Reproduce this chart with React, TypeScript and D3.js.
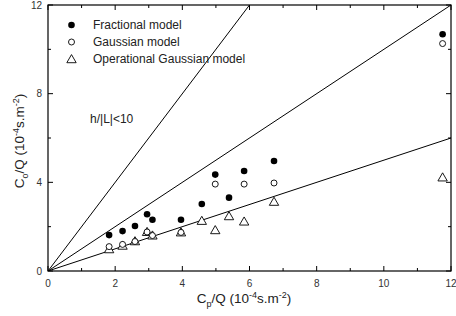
import React from "react";
import * as d3 from "d3";

const xTicks = [0, 2, 4, 6, 8, 10, 12];
const yTicks = [0, 4, 8, 12];
const lineSlopes = [2, 1, 0.5];

const fracX = [1.82, 2.22, 2.59, 2.95, 3.11, 3.96, 4.58, 4.98, 5.39, 5.84, 6.73, 11.75];
const fracY = [1.62, 1.8, 2.03, 2.56, 2.31, 2.31, 3.02, 4.35, 3.31, 4.51, 4.96, 10.68];

const gaussX = [1.82, 2.22, 2.59, 2.95, 3.11, 3.96, 4.98, 5.84, 6.73, 11.75];
const gaussY = [1.1, 1.2, 1.33, 1.76, 1.6, 1.74, 3.92, 3.92, 3.97, 10.26];

const opX = [1.82, 2.22, 2.59, 2.95, 3.11, 3.96, 4.58, 4.98, 5.39, 5.84, 6.73, 11.75];
const opY = [0.99, 1.15, 1.35, 1.77, 1.61, 1.75, 2.27, 1.85, 2.48, 2.24, 3.13, 4.23];

const legendLabels = ["Fractional model", "Gaussian model", "Operational Gaussian model"];

export default function App() {
  const W = 456, H = 316;
  const L = 48, R = 451, T = 5, B = 271;
  const x = d3.scaleLinear().domain([0, 12]).range([L, R]);
  const y = d3.scaleLinear().domain([0, 12]).range([B, T]);
  const minorX = d3.range(1, 12, 2);
  const minorY = d3.range(2, 12, 4);
  const font = "Liberation Sans, Arial, sans-serif";
  const tri = d3.symbol().type(d3.symbolTriangle).size(38)() as string;
  const lineGen = d3.line<[number, number]>().x(d => x(d[0])).y(d => y(d[1]));

  return (
    <svg width={W} height={H} style={{ position: "absolute", left: 0, top: 0, background: "#fff" }}>
      <defs>
        <clipPath id="clip"><rect x={L} y={T} width={R - L} height={B - T} /></clipPath>
      </defs>
      {/* fitted lines */}
      <g clipPath="url(#clip)">
        {lineSlopes.map((s, i) => (
          <path key={i} d={lineGen([[0, 0], [12, 12 * s]]) as string} stroke="#000" strokeWidth={1} fill="none" />
        ))}
      </g>
      {/* frame */}
      <rect x={L} y={T} width={R - L} height={B - T} fill="none" stroke="#000" strokeWidth={1.2} />
      {/* ticks */}
      {xTicks.map(t => (
        <g key={"xt" + t}>
          <line x1={x(t)} x2={x(t)} y1={B} y2={B - 5} stroke="#000" />
          <line x1={x(t)} x2={x(t)} y1={T} y2={T + 5} stroke="#000" />
          <text x={x(t)} y={B + 16} textAnchor="middle" fontSize={10} fontFamily={font} fill="#333">{t}</text>
        </g>
      ))}
      {minorX.map(t => (
        <g key={"xm" + t}>
          <line x1={x(t)} x2={x(t)} y1={B} y2={B - 3} stroke="#000" />
          <line x1={x(t)} x2={x(t)} y1={T} y2={T + 3} stroke="#000" />
        </g>
      ))}
      {yTicks.map(t => (
        <g key={"yt" + t}>
          <line x1={L} x2={L + 5} y1={y(t)} y2={y(t)} stroke="#000" />
          <line x1={R} x2={R - 5} y1={y(t)} y2={y(t)} stroke="#000" />
          <text x={L - 6} y={y(t) + 3.5} textAnchor="end" fontSize={10} fontFamily={font} fill="#333">{t}</text>
        </g>
      ))}
      {minorY.map(t => (
        <g key={"ym" + t}>
          <line x1={L} x2={L + 3} y1={y(t)} y2={y(t)} stroke="#000" />
          <line x1={R} x2={R - 3} y1={y(t)} y2={y(t)} stroke="#000" />
        </g>
      ))}
      {/* data */}
      {opX.map((v, i) => (
        <path key={"o" + i} d={tri} transform={`translate(${x(v)},${y(opY[i]) + 1})`} fill="#fff" stroke="#000" strokeWidth={0.9} />
      ))}
      {gaussX.map((v, i) => (
        <circle key={"g" + i} cx={x(v)} cy={y(gaussY[i])} r={3} fill="#fff" stroke="#000" strokeWidth={0.9} />
      ))}
      {fracX.map((v, i) => (
        <circle key={"f" + i} cx={x(v)} cy={y(fracY[i])} r={3.3} fill="#000" />
      ))}
      {/* legend */}
      {legendLabels.map((lab, i) => {
        const ly = 25 + i * 17;
        return (
          <g key={"lg" + i}>
            {i === 0 && <circle cx={71.5} cy={ly} r={3.3} fill="#000" />}
            {i === 1 && <circle cx={71.5} cy={ly} r={3} fill="#fff" stroke="#000" strokeWidth={0.9} />}
            {i === 2 && <path d={tri} transform={`translate(71.5,${ly + 1})`} fill="#fff" stroke="#000" strokeWidth={0.9} />}
            <text x={93} y={ly + 4} fontSize={12} fontFamily={font} fill="#222">{lab}</text>
          </g>
        );
      })}
      <text x={90} y={123} fontSize={12} fontFamily={font} fill="#222">h/|L|&lt;10</text>
      {/* axis titles */}
      <text x={244} y={303} textAnchor="middle" fontSize={13.5} fontFamily={font} fill="#222">
        C<tspan fontSize={9} dy={4}>p</tspan><tspan dy={-4}>/Q (10</tspan><tspan fontSize={9} dy={-5}>-4</tspan><tspan dy={5}>s.m</tspan><tspan fontSize={9} dy={-5}>-2</tspan><tspan dy={5}>)</tspan>
      </text>
      <text transform={`translate(24,${141}) rotate(-90)`} textAnchor="middle" fontSize={13.5} fontFamily={font} fill="#222">
        C<tspan fontSize={9} dy={4}>o</tspan><tspan dy={-4}>/Q (10</tspan><tspan fontSize={9} dy={-5}>-4</tspan><tspan dy={5}>s.m</tspan><tspan fontSize={9} dy={-5}>-2</tspan><tspan dy={5}>)</tspan>
      </text>
    </svg>
  );
}
